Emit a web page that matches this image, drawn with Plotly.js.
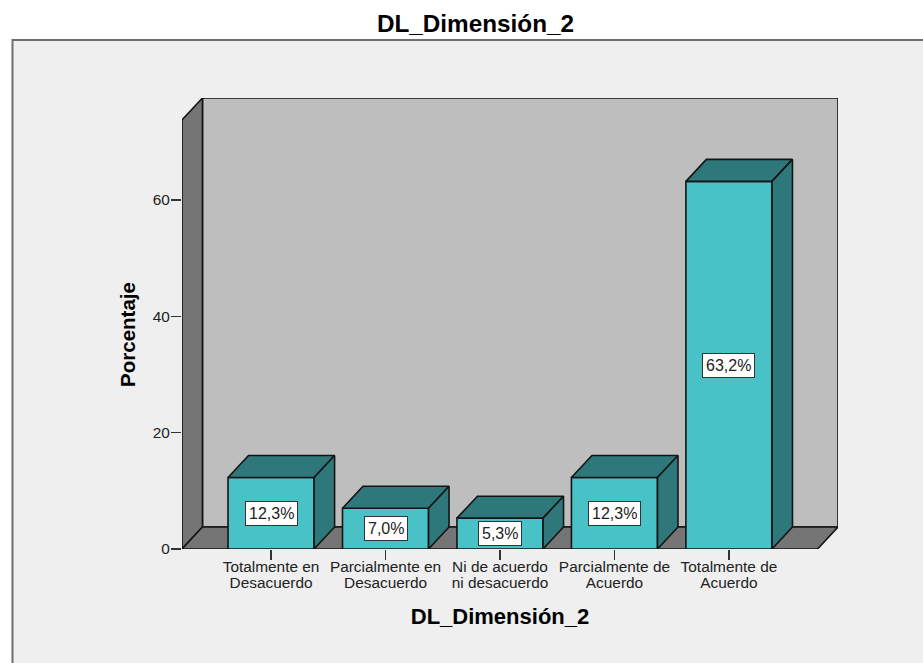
<!DOCTYPE html>
<html>
<head>
<meta charset="utf-8">
<script src="https://cdn.plot.ly/plotly-3.0.1.min.js"></script>
<style>html,body{margin:0;padding:0;background:#fff}#chart{width:923px;height:663px}</style>
</head>
<body>
<div id="chart"></div>
<script>
// Category labels, split over two lines
const labelLine1 = ["Totalmente en", "Parcialmente en", "Ni de acuerdo", "Parcialmente de", "Totalmente de"];
const labelLine2 = ["Desacuerdo", "Desacuerdo", "ni desacuerdo", "Acuerdo", "Acuerdo"];
// Percentage of respondents per category
const percentages = [12.3, 7.0, 5.3, 12.3, 63.2];
const yTicks = [0, 20, 40, 60];

// Axis extents of the front plane and the oblique depth of the box
const xRange = [-0.778, 4.778];
const yRange = [0, 73.75];
const depthX = 0.179;
const depthY = 3.78;
const barHalf = 0.376;

// Share of the plot area taken by the front plane; the rest is box depth
const frontDomainX = [0, 636 / 656];
const frontDomainY = [0, 429 / 451];

const positions = percentages.map((_, i) => i);
const FONT = "Liberation Sans, Arial, sans-serif";
const INK = "#141414";

// Closed filled polygon in data coordinates
function quad(xs, ys, fill, xaxis, yaxis) {
  return {
    type: "scatter", mode: "lines", hoverinfo: "skip", showlegend: false,
    x: xs.concat(xs[0]), y: ys.concat(ys[0]),
    xaxis: xaxis, yaxis: yaxis, fill: "toself", fillcolor: fill,
    line: {color: INK, width: 1.6},
    cliponaxis: false
  };
}

const [xa, xb] = xRange;
const [ya, yb] = yRange;

// Box walls, on the axes that span the full depth
const traces = [
  quad([xa + depthX, xb + depthX, xb + depthX, xa + depthX],
       [depthY, depthY, yb + depthY, yb + depthY], "#bebebe", "x", "y"),
  quad([xa, xa + depthX, xa + depthX, xa],
       [0, depthY, yb + depthY, yb], "#757575", "x", "y"),
  quad([xa, xb, xb + depthX, xa + depthX],
       [0, 0, depthY, depthY], "#757575", "x", "y")
];

// Each bar: front face, top face, side face
positions.forEach((p, i) => {
  const v = percentages[i];
  const l = p - barHalf, r = p + barHalf;
  traces.push(quad([l, r, r, l], [0, 0, v, v], "#48c2c7", "x2", "y2"));
  traces.push(quad([l, r, r + depthX, l + depthX], [v, v, v + depthY, v + depthY], "#2e777a", "x3", "y2"));
  traces.push(quad([r, r + depthX, r + depthX, r], [0, depthY, v + depthY, v], "#2e777a", "x3", "y2"));
});

// Value labels centred on the front faces
const valueLabels = positions.map((p, i) => ({
  x: p, y: percentages[i] / 2, xref: "x2", yref: "y2",
  text: percentages[i].toFixed(1).replace(".", ",") + "%",
  showarrow: false,
  font: {family: FONT, size: 16, color: "#222"},
  bgcolor: "#ffffff", bordercolor: "#333333", borderwidth: 1, borderpad: 3
}));

const tickFont = {family: FONT, size: 15.4, color: "#222"};
const hiddenAxis = {showgrid: false, zeroline: false, showline: false, ticks: "", showticklabels: false};

const layout = {
  width: 923, height: 663,
  margin: {l: 182, r: 85, t: 98, b: 114},
  paper_bgcolor: "#ffffff",
  plot_bgcolor: "rgba(0,0,0,0)",
  showlegend: false,
  hovermode: false,
  title: {
    text: "DL_Dimensión_2",
    font: {family: FONT, size: 24.3, color: "#000", weight: "bold"},
    x: 475.5 / 923, xref: "container", xanchor: "center",
    y: 1 - 23.5 / 663, yref: "container", yanchor: "middle"
  },
  // Wide axes: front plane range plus the box depth
  xaxis: Object.assign({range: [xa, xb + depthX], domain: [0, 1], anchor: "y"}, hiddenAxis),
  yaxis: Object.assign({range: [ya, yb + depthY], domain: [0, 1], anchor: "x"}, hiddenAxis),
  // Front plane axes carrying the ticks and titles
  xaxis2: {
    range: xRange, domain: frontDomainX, anchor: "y2",
    tickmode: "array", tickvals: positions, ticktext: labelLine1,
    ticks: "outside", ticklen: 10, tickwidth: 1.4, tickcolor: "#333",
    tickfont: tickFont, tickangle: 0, ticklabelstandoff: -6,
    showgrid: false, zeroline: false, showline: false,
    title: {
      text: "DL_Dimensión_2",
      font: {family: FONT, size: 22, color: "#000", weight: "bold"},
      standoff: 34
    }
  },
  xaxis3: {
    range: xRange, overlaying: "x2", anchor: "y2", side: "bottom",
    tickmode: "array", tickvals: positions, ticktext: labelLine2,
    ticks: "", tickfont: tickFont, tickangle: 0, ticklabelstandoff: 23,
    showgrid: false, zeroline: false, showline: false
  },
  yaxis2: {
    range: yRange, domain: frontDomainY, anchor: "x2",
    tickmode: "array", tickvals: yTicks,
    ticks: "outside", ticklen: 10, tickwidth: 1.4, tickcolor: "#333",
    tickfont: tickFont, ticklabelstandoff: -2,
    showgrid: false, zeroline: false, showline: false,
    title: {
      text: "Porcentaje",
      font: {family: FONT, size: 20.5, color: "#000", weight: "bold"},
      standoff: 11
    }
  },
  annotations: valueLabels,
  // Panel behind the chart, open towards the right and bottom edges
  shapes: [{
    type: "rect", layer: "below", xref: "paper", yref: "paper",
    x0: (12.5 - 182) / 656, x1: (960 - 182) / 656,
    y0: (549 - 700) / 451, y1: (549 - 40) / 451,
    fillcolor: "#efefef", line: {color: "#6e6e6e", width: 2}
  }]
};

Plotly.newPlot("chart", traces, layout, {displayModeBar: false, staticPlot: true});
</script>
</body>
</html>
